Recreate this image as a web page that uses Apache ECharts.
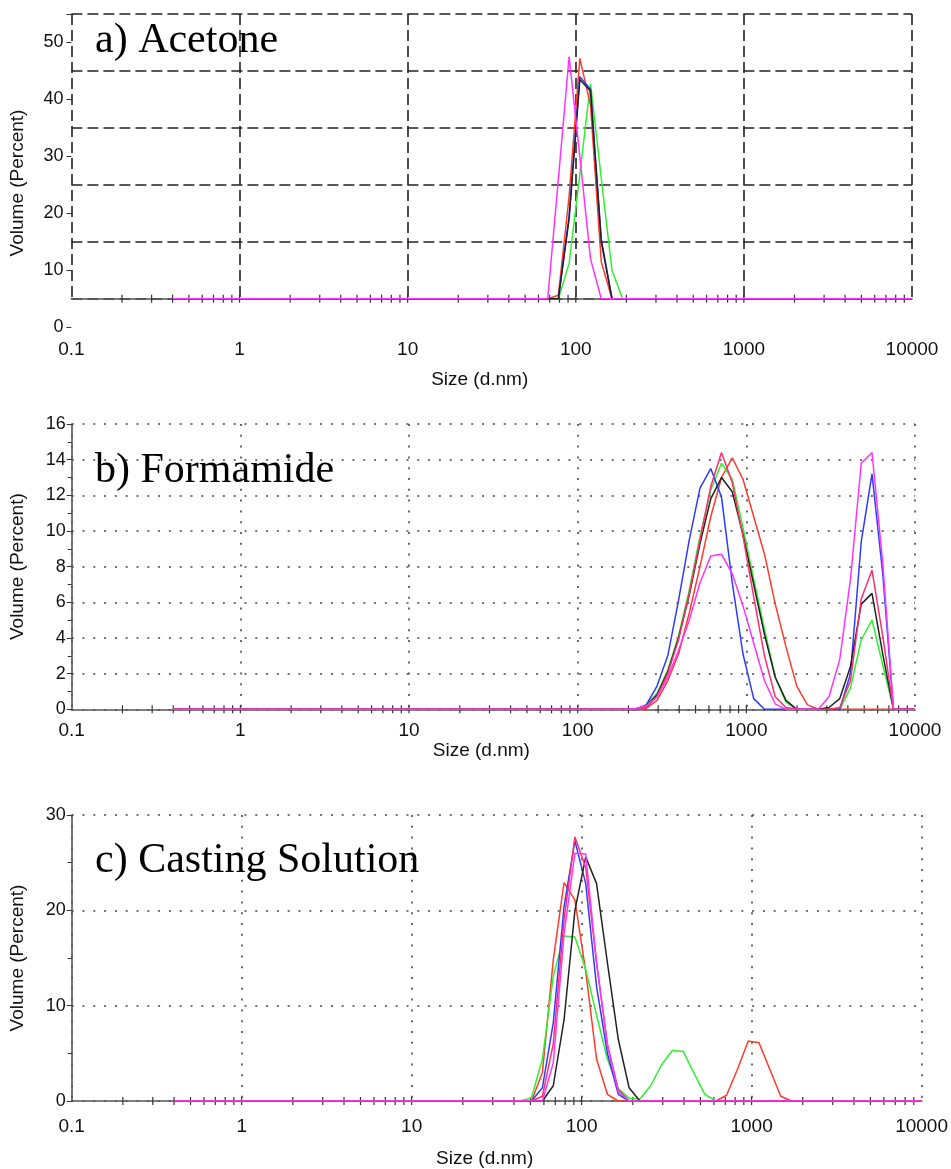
<!DOCTYPE html>
<html>
<head>
<meta charset="utf-8">
<script src="https://cdn.jsdelivr.net/npm/echarts@6/dist/echarts.min.js"></script>
<style>
html,body{margin:0;padding:0;background:#fff;}
#chart{width:951px;height:1169px;}
</style>
</head>
<body>
<div id="chart"></div>
<script>
// ---------- tick labels ----------
const xTickLabels = ['0.1', '1', '10', '100', '1000', '10000'];
const yTicksA = [0, 10, 20, 30, 40, 50];
const xMinorTicks = [0.2, 0.3, 0.4, 0.5, 0.6, 0.7, 0.8, 0.9, 1,
  2, 3, 4, 5, 6, 7, 8, 9, 10,
  20, 30, 40, 50, 60, 70, 80, 90, 100,
  200, 300, 400, 500, 600, 700, 800, 900, 1000,
  2000, 3000, 4000, 5000, 6000, 7000, 8000, 9000];

// ---------- a) Acetone ----------
const sizesA = [0.4, 68.1, 78.8, 91.3, 105.7, 122.4, 141.8, 164.2, 190.1, 10000];
const acetoneRed     = [0, 0, 0.6, 18.0, 42.2, 34.0, 6.5, 0, 0, 0];
const acetoneGreen   = [0, 0, 0, 6.2, 21.8, 37.8, 21.2, 5.0, 0, 0];
const acetoneBlue    = [0, 0, 0, 14.5, 39.0, 36.8, 10.5, 0, 0, 0];
const acetoneBlack   = [0, 0, 0, 14.0, 38.5, 36.5, 10.0, 0, 0, 0];
const acetoneMagenta = [0, 0, 21.0, 42.5, 25.0, 7.0, 0, 0, 0, 0];

// ---------- b) Formamide ----------
const sizesB = [0.4, 190.1, 220.2, 255.0, 295.3, 342.0, 396.1, 458.7, 531.2, 615.1, 712.4, 825.0,
  955.4, 1106, 1281, 1484, 1718, 1990, 2305, 2669, 3091, 3580, 4145, 4801, 5560, 6439, 7456, 8635, 10000];
const formRed     = [0, 0, 0, 0.05, 0.5, 1.6, 3.1, 5.4, 8.0, 10.8, 13.0, 14.1, 12.9, 10.8, 8.7, 5.9, 3.5, 1.3, 0.25, 0, 0, 0, 0, 0, 0, 0, 0, 0, 0];
const formGreen   = [0, 0, 0, 0.25, 0.9, 2.2, 4.1, 6.7, 9.7, 12.3, 13.8, 12.9, 10.2, 7.3, 4.5, 1.8, 0.4, 0, 0, 0, 0, 0, 1.2, 3.9, 5.0, 2.5, 0, 0, 0];
const formBlue    = [0, 0, 0, 0.25, 1.3, 3.0, 6.1, 9.5, 12.4, 13.5, 11.9, 7.1, 3.1, 0.6, 0, 0, 0, 0, 0, 0, 0, 0, 2.0, 9.4, 13.2, 7.6, 0, 0, 0];
const formBlack   = [0, 0, 0, 0.2, 0.8, 2.1, 4.0, 6.4, 9.3, 11.8, 13.0, 12.2, 9.8, 7.0, 4.2, 1.8, 0.5, 0, 0, 0, 0.1, 0.6, 2.4, 5.9, 6.5, 3.1, 0, 0, 0];
const formCrimson = [0, 0, 0, 0.1, 0.7, 2.0, 3.9, 6.5, 9.5, 12.5, 14.4, 12.7, 9.7, 6.3, 3.0, 0.7, 0.1, 0, 0, 0, 0, 0.1, 1.6, 6.2, 7.8, 4.1, 0, 0, 0];
const formMagenta = [0, 0, 0.05, 0.2, 0.7, 1.8, 3.3, 5.0, 7.1, 8.6, 8.7, 7.6, 5.8, 3.7, 1.6, 0.3, 0, 0, 0, 0, 0.7, 2.8, 7.3, 13.8, 14.4, 8.2, 0, 0, 0];

// ---------- c) Casting Solution ----------
const sizesC = [0.4, 43.8, 50.7, 58.8, 68.1, 78.8, 91.3, 105.7, 122.4, 141.8, 164.2, 190.1, 220.2, 255.0, 295.3,
  342.0, 396.1, 458.7, 531.2, 615.1, 712.4, 825.0, 955.4, 1106, 1281, 1484, 1718, 10000];
const castRed     = [0, 0, 0, 3.0, 14.8, 22.9, 21.1, 13.6, 4.4, 0.7, 0, 0, 0, 0, 0, 0, 0, 0, 0, 0, 0.6, 3.3, 6.3, 6.1, 3.3, 0.5, 0, 0];
const castGreen   = [0, 0, 0.35, 4.4, 13.1, 17.3, 17.2, 13.8, 9.0, 4.4, 1.3, 0.3, 0.2, 1.6, 3.8, 5.3, 5.2, 2.9, 0.7, 0, 0, 0, 0, 0, 0, 0, 0, 0];
const castBlue    = [0, 0, 0, 1.4, 8.2, 20.4, 27.3, 22.8, 12.0, 5.0, 0.7, 0, 0, 0, 0, 0, 0, 0, 0, 0, 0, 0, 0, 0, 0, 0, 0, 0];
const castBlack   = [0, 0, 0, 0, 1.6, 8.5, 20.0, 25.6, 22.8, 14.5, 6.5, 1.4, 0, 0, 0, 0, 0, 0, 0, 0, 0, 0, 0, 0, 0, 0, 0, 0];
const castCrimson = [0, 0, 0, 0.5, 6.0, 19.0, 27.7, 24.5, 14.5, 6.0, 1.2, 0, 0, 0, 0, 0, 0, 0, 0, 0, 0, 0, 0, 0, 0, 0, 0, 0];
const castMagenta = [0, 0, 0, 0, 4.0, 17.5, 26.0, 25.9, 14.5, 5.8, 1.0, 0, 0, 0, 0, 0, 0, 0, 0, 0, 0, 0, 0, 0, 0, 0, 0, 0];

// ---------- styling ----------
const COL = {red: '#ff3b2b', green: '#2ef02e', blue: '#2b3cff', black: '#222222', crimson: '#ff2d6e', magenta: '#ff33ff'};
const SANS = '"Liberation Sans", Arial, sans-serif';
const SERIF = '"Liberation Serif", "Times New Roman", serif';
const dotted = {type: [2, 8.8], width: 1.6, color: '#444'};
const dashed = {type: [11, 5], width: 1.6, color: '#222'};

function pairs(sizes, vals) { return sizes.map((s, i) => [s, vals[i]]); }
function line(xi, sizes, vals, color) {
  return {type: 'line', xAxisIndex: xi, yAxisIndex: xi, data: pairs(sizes, vals),
    showSymbol: false, symbol: 'none', lineStyle: {width: 1.5, color: color}, itemStyle: {color: color},
    silent: true, animation: false, z: 3};
}
function ticks(xi) {
  return {type: 'custom', xAxisIndex: xi, yAxisIndex: xi, data: xMinorTicks.map(v => [v, 0]),
    encode: {x: 0, y: 1}, silent: true, animation: false, clip: false, z: 2,
    renderItem: function (params, api) {
      const p = api.coord([api.value(0), api.value(1)]);
      return {type: 'line', shape: {x1: p[0], y1: p[1] - 4, x2: p[0], y2: p[1] + 4},
        style: {stroke: '#333', lineWidth: 1.2}};
    }};
}
function logX(grid, extra) {
  return Object.assign({
    type: 'log', logBase: 10, gridIndex: grid, min: 0.1, max: 10000,
    axisTick: {show: false}, minorTick: {show: false},
    axisLabel: {fontFamily: SANS, fontSize: 19, color: '#111', formatter: (v, i) => xTickLabels[i] || ''},
    nameTextStyle: {fontFamily: SANS, fontSize: 19, color: '#111', padding: [0, 24, 0, 0]}
  }, extra);
}

const option = {
  animation: false,
  backgroundColor: '#fff',
  grid: [
    {left: 71.4, right: 39, top: 14, height: 284.7},
    {left: 71.4, right: 39, top: 14, height: 313},
    {left: 71.7, right: 36, top: 424, height: 285.3},
    {left: 71.7, right: 29.3, top: 815, height: 286.7}
  ],
  xAxis: [
    logX(0, {axisLabel: {show: false}, axisLine: {show: true, lineStyle: {color: '#555', width: 1.6}},
      splitLine: {show: true, lineStyle: dashed}}),
    logX(1, {axisLine: {show: false}, splitLine: {show: false},
      axisLabel: {fontFamily: SANS, fontSize: 19, color: '#111', margin: 13, formatter: (v, i) => xTickLabels[i] || ''},
      name: 'Size (d.nm)', nameLocation: 'middle', nameGap: 43}),
    logX(2, {axisLine: {show: true, lineStyle: {color: '#555', width: 1.6}},
      axisLabel: {fontFamily: SANS, fontSize: 19, color: '#111', margin: 12, formatter: (v, i) => xTickLabels[i] || ''},
      splitLine: {show: true, lineStyle: dotted},
      name: 'Size (d.nm)', nameLocation: 'middle', nameGap: 22}),
    logX(3, {axisLine: {show: true, lineStyle: {color: '#555', width: 1.6}},
      axisLabel: {fontFamily: SANS, fontSize: 19, color: '#111', margin: 16, formatter: (v, i) => xTickLabels[i] || ''},
      splitLine: {show: true, lineStyle: dotted},
      name: 'Size (d.nm)', nameLocation: 'middle', nameGap: 48})
  ],
  yAxis: [
    {type: 'value', gridIndex: 0, min: 0, max: 50, interval: 10,
      axisLine: {show: false}, axisTick: {show: false}, axisLabel: {show: false},
      splitLine: {show: true, lineStyle: dashed}},
    {type: 'value', gridIndex: 1, min: 0, max: 55, interval: 10,
      axisLine: {show: false}, axisTick: {show: true, length: 5, lineStyle: {color: '#333'}},
      axisLabel: {fontFamily: SANS, fontSize: 18, color: '#111', margin: 8,
        formatter: v => (yTicksA.indexOf(v) >= 0 ? String(v) : '')},
      splitLine: {show: false}},
    {type: 'value', gridIndex: 2, min: 0, max: 16, interval: 2,
      axisLine: {show: true, lineStyle: {color: '#555', width: 1.6}},
      axisTick: {show: true, length: 5, lineStyle: {color: '#333'}},
      minorTick: {show: true, splitNumber: 2, length: 4, lineStyle: {color: '#333'}},
      axisLabel: {fontFamily: SANS, fontSize: 18, color: '#111', margin: 6},
      splitLine: {show: true, lineStyle: dotted},
      name: 'Volume (Percent)', nameLocation: 'middle', nameGap: 44,
      nameTextStyle: {fontFamily: SANS, fontSize: 19, color: '#111'}},
    {type: 'value', gridIndex: 3, min: 0, max: 30, interval: 10,
      axisLine: {show: true, lineStyle: {color: '#555', width: 1.6}},
      axisTick: {show: true, length: 5, lineStyle: {color: '#333'}},
      minorTick: {show: true, splitNumber: 2, length: 4, lineStyle: {color: '#333'}},
      axisLabel: {fontFamily: SANS, fontSize: 18, color: '#111', margin: 6},
      splitLine: {show: true, lineStyle: dotted},
      name: 'Volume (Percent)', nameLocation: 'middle', nameGap: 44,
      nameTextStyle: {fontFamily: SANS, fontSize: 19, color: '#111'}}
  ],
  graphic: [
    {type: 'text', x: 95, y: 41, silent: true, z: 10,
      style: {text: 'a) Acetone', font: '42px ' + SERIF, fill: '#000', align: 'left', verticalAlign: 'middle'}},
    {type: 'text', x: 95, y: 471, silent: true, z: 10,
      style: {text: 'b) Formamide', font: '42px ' + SERIF, fill: '#000', align: 'left', verticalAlign: 'middle'}},
    {type: 'text', x: 95, y: 861, silent: true, z: 10,
      style: {text: 'c) Casting Solution', font: '42px ' + SERIF, fill: '#000', align: 'left', verticalAlign: 'middle'}},
    {type: 'text', x: 18, y: 183, rotation: Math.PI / 2, silent: true,
      style: {text: 'Volume (Percent)', font: '19px ' + SANS, fill: '#111', align: 'center', verticalAlign: 'middle'}}
  ],
  series: [
    ticks(0),
    line(0, sizesA, acetoneGreen, COL.green),
    line(0, sizesA, acetoneRed, COL.red),
    line(0, sizesA, acetoneBlue, COL.blue),
    line(0, sizesA, acetoneBlack, COL.black),
    line(0, sizesA, acetoneMagenta, COL.magenta),

    ticks(2),
    line(2, sizesB, formRed, COL.red),
    line(2, sizesB, formGreen, COL.green),
    line(2, sizesB, formBlue, COL.blue),
    line(2, sizesB, formBlack, COL.black),
    line(2, sizesB, formCrimson, COL.crimson),
    line(2, sizesB, formMagenta, COL.magenta),

    ticks(3),
    line(3, sizesC, castRed, COL.red),
    line(3, sizesC, castGreen, COL.green),
    line(3, sizesC, castBlue, COL.blue),
    line(3, sizesC, castBlack, COL.black),
    line(3, sizesC, castCrimson, COL.crimson),
    line(3, sizesC, castMagenta, COL.magenta)
  ]
};

const chart = echarts.init(document.getElementById('chart'), null, {renderer: 'canvas'});
chart.setOption(option);
</script>
</body>
</html>
